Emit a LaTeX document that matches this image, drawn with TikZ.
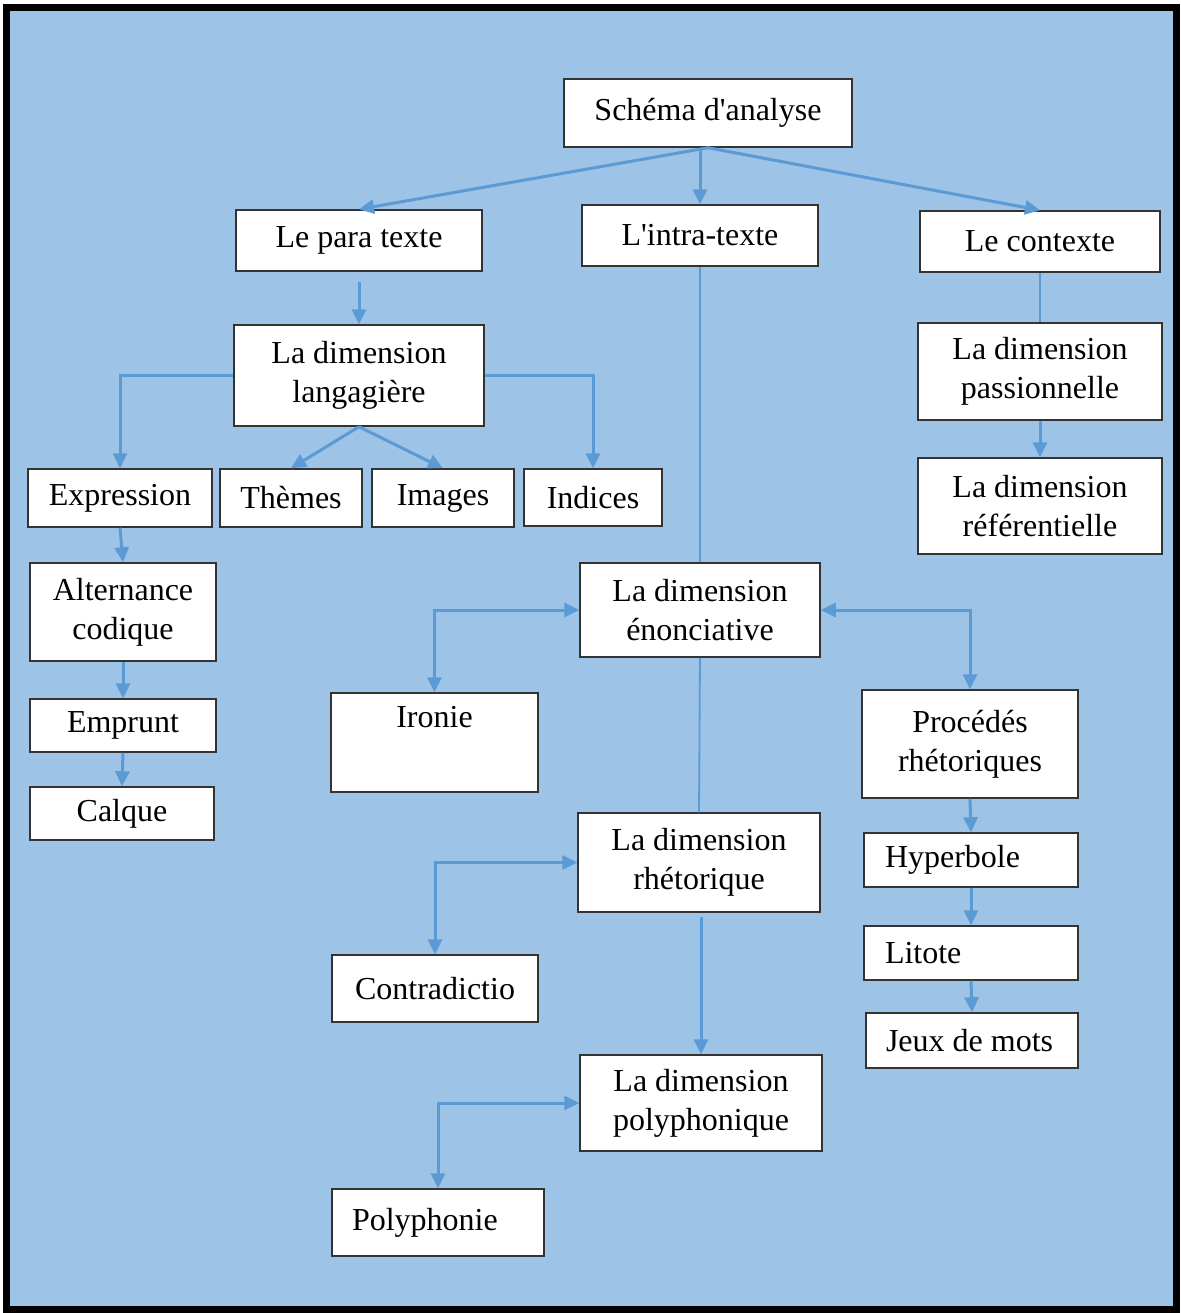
\documentclass[tikz,border=0pt]{standalone}
\usepackage{fontspec}
\setmainfont{Liberation Serif}
\usepackage{xcolor}
\usepackage{tikz}
\usetikzlibrary{calc,arrows.meta,positioning}
\definecolor{bgblue}{HTML}{9DC3E6}
\definecolor{lineblue}{HTML}{5B9BD5}
\definecolor{edgegray}{HTML}{333333}
\newcommand{\lft}[1]{\makebox[86pt][l]{#1}}
\tikzset{
  ar/.style={-{Triangle[length=7.5pt,width=7pt]},line width=1.5pt,lineblue},
  arr/.style={{Triangle[length=7.5pt,width=7pt]}-{Triangle[length=7.5pt,width=7pt]},line width=1.5pt,lineblue},
  ln/.style={line width=0.9pt,lineblue},
  box/.style={draw=edgegray,line width=0.75pt,fill=white,align=center,inner sep=0pt,
    font=\fontsize{16}{19.5}\selectfont}
}
\begin{document}
\begin{tikzpicture}[x=0.5pt,y=-0.5pt]
\useasboundingbox (0,0) rectangle (1180,1313);
\draw[line width=3.5pt,fill=bgblue] (6,7) rectangle (1176,1309);
% top row
\node[box,minimum width=144pt,minimum height=34pt] (schema) at (708,113) {Schéma d\textquotesingle analyse};
\node[box,minimum width=123pt,minimum height=30.5pt] (para) at (359,240.5) {Le para texte};
\node[box,minimum width=118pt,minimum height=30.5pt] (intra) at (700,235.5) {L\textquotesingle intra-texte};
\node[box,minimum width=120pt,minimum height=30.5pt] (contexte) at (1040,241.5) {Le contexte};
% para texte
\node[box,minimum width=125pt,minimum height=50.5pt] (lang) at (359,375.5) {La dimension\\langagière};
\node[box,minimum width=92pt,minimum height=29pt] (expr) at (120,498) {Expression};
\node[box,minimum width=71pt,minimum height=29pt] (themes) at (291,498) {Thèmes};
\node[box,minimum width=71pt,minimum height=29pt] (images) at (443,498) {Images};
\node[box,minimum width=69pt,minimum height=28.5pt] (indices) at (593,497.5) {Indices};
\node[box,minimum width=93pt,minimum height=49pt] (altern) at (123,612) {Alternance\\codique};
\node[box,minimum width=93pt,minimum height=26.5pt] (emprunt) at (123,725.5) {Emprunt};
\node[box,minimum width=92pt,minimum height=26.5pt] (calque) at (122,813.5) {Calque};
% contexte
\node[box,minimum width=122pt,minimum height=48.5pt] (passion) at (1040,371.5) {La dimension\\passionnelle};
\node[box,minimum width=122pt,minimum height=48pt] (refer) at (1040,506) {La dimension\\référentielle};
% intra-texte
\node[box,minimum width=120pt,minimum height=47pt] (enonc) at (700,610) {La dimension\\énonciative};
\node[box,minimum width=103.5pt,minimum height=49.5pt] (ironie) at (434.5,742.5) {Ironie\\\strut};
\node[box,minimum width=108pt,minimum height=54pt] (procedes) at (970,744) {Procédés\\rhétoriques};
\node[box,minimum width=107pt,minimum height=27pt] (hyper) at (971,860) {\lft{Hyperbole}};
\node[box,minimum width=107pt,minimum height=27pt] (litote) at (971,953) {\lft{Litote}};
\node[box,minimum width=106pt,minimum height=27.5pt] (jeux) at (972,1040.5) {\lft{Jeux de mots}};
\node[box,minimum width=121pt,minimum height=49.5pt] (rhet) at (699,862.5) {La dimension\\rhétorique};
\node[box,minimum width=103pt,minimum height=33.5pt] (contra) at (435,988.5) {Contradictio};
\node[box,minimum width=121pt,minimum height=48pt] (polyph) at (701,1103) {La dimension\\polyphonique};
\node[box,minimum width=106pt,minimum height=33.5pt] (polyphonie) at (438,1222.5) {\lft{Polyphonie}};
% connectors
\draw[ar] (schema.south) -- (para.north);
\draw[ar] (intra.north |- schema.south) -- (intra.north);
\draw[ar] (schema.south) -- (contexte.north);
\draw[ar,shorten <=5pt] (para.south) -- (lang.north);
\draw[ar] (lang.west) -| (expr.north);
\draw[ar] (lang.east) -| (indices.north);
\draw[ar] (lang.south) -- (themes.north);
\draw[ar] (lang.south) -- (images.north);
\draw[ar] (expr.south) -- (altern.north);
\draw[ar] (altern.south) -- (emprunt.north);
\draw[ar] (emprunt.south) -- (calque.north);
\draw[ln] (contexte.south) -- (passion.north);
\draw[ar] (passion.south) -- (refer.north);
\draw[ln] (intra.south) -- (enonc.north);
\draw[ln] (enonc.south) -- (rhet.north);
\draw[ar,shorten <=2pt] (polyph.north |- rhet.south) -- (polyph.north);
\draw[arr] (ironie.north) |- (enonc.west);
\draw[arr] (procedes.north) |- (enonc.east);
\draw[arr] (contra.north) |- (rhet.west);
\draw[arr] (polyphonie.north) |- (polyph.west);
\draw[ar] (procedes.south) -- (hyper.north);
\draw[ar] (hyper.south) -- (litote.north);
\draw[ar] (litote.south) -- (jeux.north);
\end{tikzpicture}
\end{document}
